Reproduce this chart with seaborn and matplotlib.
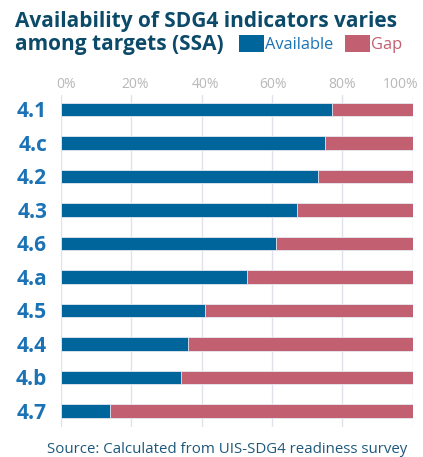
import matplotlib
matplotlib.use("Agg")
import matplotlib.pyplot as plt
import matplotlib.transforms as mtransforms
import seaborn as sns
import pandas as pd
from matplotlib.patches import Patch

targets = ["4.1", "4.c", "4.2", "4.3", "4.6", "4.a", "4.5", "4.4", "4.b", "4.7"]
available = [77, 75, 73, 67, 61, 53, 41, 36, 34, 14]
gap = [100 - a for a in available]
xticks = [0, 20, 40, 60, 80, 100]
xtick_labels = ["0%", "20%", "40%", "60%", "80%", "100%"]

BLUE = "#00659a"
RED = "#c25f70"
TITLE = "#0c4a6a"
LABEL = "#1b72b5"

sns.set_theme(style="white")
plt.rcParams["font.family"] = ["Open Sans", "DejaVu Sans"]

df = pd.DataFrame({"target": targets, "available": available, "gap": gap})
df["total"] = df["available"] + df["gap"]

fig = plt.figure(figsize=(4.23, 4.57), dpi=100)
ax = fig.add_axes([0.1442, 0.0656, 0.8315, 0.7265])

sns.barplot(data=df, y="target", x="total", orient="h", color=RED, width=0.4,
            saturation=1, edgecolor="#e8eaf2", linewidth=0.6, ax=ax, zorder=2)
sns.barplot(data=df, y="target", x="available", orient="h", color=BLUE, width=0.4,
            saturation=1, edgecolor="#e8eaf2", linewidth=0.6, ax=ax, zorder=3)

ax.set_xlim(0, 100)
ax.set_ylim(9.48, -0.43)
ax.set_xlabel("")
ax.set_ylabel("")
ax.xaxis.tick_top()
ax.set_xticks(xticks)
ax.set_xticklabels(xtick_labels, color="#b8b8b8", fontsize=10)
ax.tick_params(axis="x", length=0, pad=2)
ax.tick_params(axis="y", length=0, pad=10)
offsets_px = [5, 4, 4, 1, 0, -12]
for lab, off in zip(ax.get_xticklabels(), offsets_px):
    lab.set_transform(lab.get_transform() +
                      mtransforms.ScaledTranslation(off / 100, 0, fig.dpi_scale_trans))
for lab in ax.get_yticklabels():
    lab.set_color(LABEL)
    lab.set_fontweight("bold")
    lab.set_fontsize(15)
ax.grid(axis="x", color="#dfe2ea", linewidth=1, zorder=0)
ax.set_axisbelow(True)
for s in ax.spines.values():
    s.set_visible(False)

fig.text(0.035, 0.952, "Availability of SDG4 indicators varies",
         ha="left", va="center", fontsize=15, fontweight="bold", color=TITLE)
fig.text(0.035, 0.902, "among targets (SSA)",
         ha="left", va="center", fontsize=15, fontweight="bold", color=TITLE)

handles = [Patch(facecolor=BLUE, edgecolor="none"), Patch(facecolor=RED, edgecolor="none")]
leg = fig.legend(handles, ["Available", "Gap"], loc="center left",
                 bbox_to_anchor=(0.545, 0.903), ncol=2, frameon=False,
                 fontsize=11.8, handlelength=1.55, handleheight=1.15,
                 handletextpad=0.05, columnspacing=0.7, borderpad=0,
                 labelcolor=[LABEL, RED])

fig.text(0.537, 0.016, "Source: Calculated from UIS-SDG4 readiness survey",
         ha="center", va="center", fontsize=10.8, color="#1d587a")

fig.savefig("out.png", dpi=100)
